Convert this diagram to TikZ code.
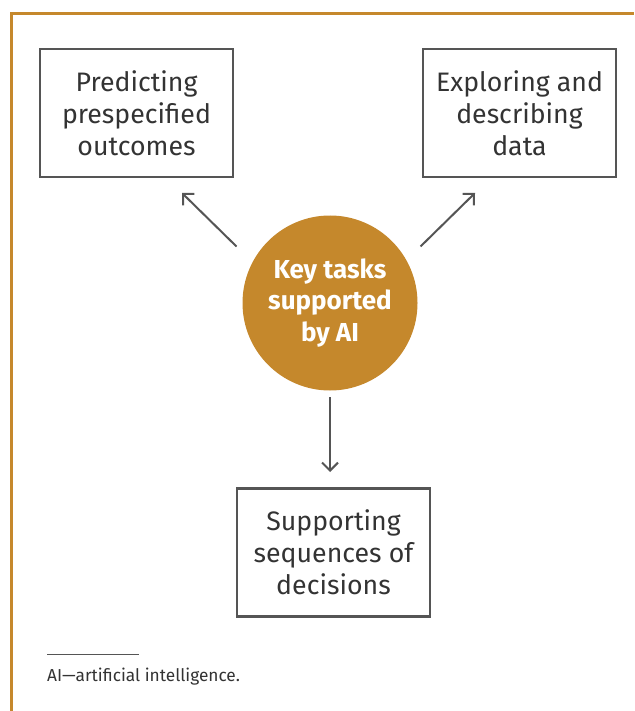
\documentclass[tikz,border=0pt]{standalone}
\usepackage{fontspec}
\setmainfont{Fira Sans}
\usetikzlibrary{arrows.meta}
\definecolor{ochre}{HTML}{C5882C}
\definecolor{edgegray}{HTML}{555555}
\definecolor{txtgray}{HTML}{333333}
\begin{document}
\begin{tikzpicture}[x=1pt,y=-1pt,
  taskbox/.style={draw=edgegray,line width=2.5pt,minimum width=193pt,minimum height=128pt,inner sep=0pt,align=center,text=txtgray,font=\fontsize{26.7}{32}\selectfont},
  hub/.style={circle,fill=ochre,minimum size=175pt,inner sep=0pt,align=center,text=white,font=\fontsize{26}{31.5}\selectfont\bfseries},
  conn/.style={draw=edgegray,line width=2pt,-{Straight Barb[length=8pt,width=16pt,line width=2pt]}}]
\useasboundingbox (0,0) rectangle (634,711);
\draw[ochre,line width=3pt] (11,711) -- (11,14) -- (634,14);
\node[taskbox] (pred) at (136.5,113) {Predicting\\prespecified\\outcomes};
\node[taskbox] (expl) at (519.5,113) {Exploring and\\describing\\data};
\node[taskbox] (seq) at (333.5,552.5) {Supporting\\sequences of\\decisions};
\node[hub] (hub) at (330,303) {Key tasks\\supported\\by AI};
\coordinate (ls) at (236.5,246.5);
\coordinate (le) at (182,193);
\coordinate (rs) at (420.5,246.5);
\coordinate (re) at (475,193);
\coordinate (ds) at (330,397);
\coordinate (de) at (330,472);
\draw[conn] (ls) -- (le);
\draw[conn] (rs) -- (re);
\draw[conn] (ds) -- (de);
\coordinate (fa) at (47,654);
\coordinate (fb) at (139,654);
\draw[edgegray,line width=1pt] (fa) -- (fb);
\node[anchor=base west,inner sep=0pt,text=txtgray,font=\fontsize{17.3}{20}\selectfont] (note) at (47,681) {AI—artificial intelligence.};
\end{tikzpicture}
\end{document}
